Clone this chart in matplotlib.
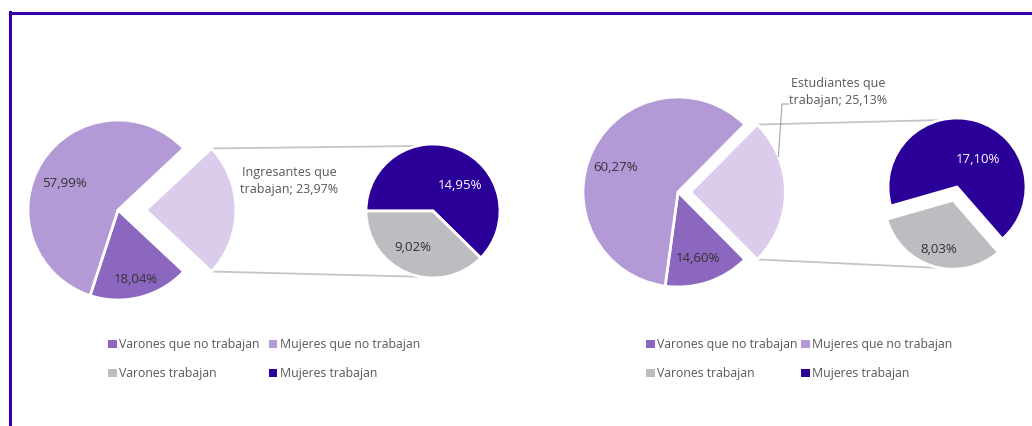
import numpy as np
import matplotlib
matplotlib.use('Agg')
import matplotlib.pyplot as plt
from matplotlib.patches import Patch
from matplotlib.lines import Line2D

plt.rcParams['font.family'] = ['Open Sans', 'DejaVu Sans']

W, H = 1032, 426

# data
legend_names = ['Varones que no trabajan', 'Mujeres que no trabajan',
                'Varones trabajan', 'Mujeres trabajan']
legend_colors = ['#8B67C0', '#B399D6', '#BDBDC1', '#2A0099']

left_title = 'Ingresantes que\ntrabajan'
left_main = [23.97, 18.04, 57.99]      # trabajan, varones no, mujeres no
left_sub = [14.95, 9.02]               # mujeres trabajan, varones trabajan

right_title = 'Estudiantes que\ntrabajan'
right_main = [25.13, 14.60, 60.27]
right_sub = [17.10, 8.03]

main_colors = ['#DCCCEB', '#8B67C0', '#B399D6']
sub_colors = ['#2A0099', '#BDBDC1']

fig = plt.figure(figsize=(W / 100, H / 100), dpi=100)
ax = fig.add_axes([0, 0, 1, 1])


def img(x, y):
    # image pixel coords -> axes data coords (y up)
    return x, H - y


def pct(v):
    return f'{v:.2f}%'.replace('.', ',')


def on_arc(w, ang):
    a = np.deg2rad(ang)
    return w.center[0] + w.r * np.cos(a), w.center[1] + w.r * np.sin(a)


def put_labels(wedges, vals, fracs, nudges, colors):
    for w, v, f, n, c in zip(wedges, vals, fracs, nudges, colors):
        mid = np.deg2rad((w.theta1 + w.theta2) / 2 + n)
        x = w.center[0] + f * w.r * np.cos(mid)
        y = w.center[1] + f * w.r * np.sin(mid)
        ax.text(x, y, pct(v), ha='center', va='center', fontsize=9.5, color=c)


def pie_of_pie(main, sub, main_xy, r_main, main_exp, sub_xy, r_sub,
               sub_start, sub_exp, main_lab, sub_lab):
    start = main[0] * 3.6 / 2
    # explode is given in data units, so scale by radius
    mw, _ = ax.pie(main, colors=main_colors, startangle=start, counterclock=False,
                   explode=[main_exp * r_main, 0, 0], center=img(*main_xy), radius=r_main,
                   wedgeprops=dict(edgecolor='white', linewidth=2))
    sw, _ = ax.pie(sub, colors=sub_colors, startangle=sub_start, counterclock=False,
                   explode=[0, sub_exp * r_sub], center=img(*sub_xy), radius=r_sub,
                   wedgeprops=dict(edgecolor='white', linewidth=2))
    # connector lines
    ex = mw[0]
    p1 = on_arc(ex, ex.theta2)
    q1 = on_arc(sw[0], 104)
    p2 = on_arc(ex, ex.theta1)
    q2 = on_arc(sw[1], 259)
    for p, q in ((p1, q1), (p2, q2)):
        ax.plot([p[0], q[0]], [p[1], q[1]], color='#C4C4C4', lw=1.3, zorder=0)
    put_labels(mw[1:], main[1:], main_lab[0], main_lab[1], ['#333333', '#333333'])
    put_labels(sw, sub, sub_lab[0], sub_lab[1], ['white', '#333333'])
    return mw, sw


# left pie of pie
pie_of_pie(left_main, left_sub, (118, 210), 90, 0.31,
           (433, 211), 67, 180, 0, ([0.8, 0.66], [0, 6]), ([0.55, 0.62], [-24, -6]))
tx, ty = img(289, 181)
ax.text(tx, ty, f'{left_title}; {pct(left_main[0])}', ha='center', va='center',
        fontsize=9, color='#595959', linespacing=1.4)

# right pie of pie
mw, sw = pie_of_pie(right_main, right_sub, (678, 192), 95, 0.13,
                    (957, 187), 69, 196, 0.2, ([0.73, 0.7], [-2, 5]), ([0.5, 0.74], [-20, 0]))
tx, ty = img(838, 92)
ax.text(tx, ty, f'{right_title}; {pct(right_main[0])}', ha='center', va='center',
        fontsize=9, color='#595959', linespacing=1.4)
lp = on_arc(mw[0], 22)
k1 = img(782, 104)
k2 = img(789, 104)
ax.plot([lp[0], k1[0], k2[0]], [lp[1], k1[1], k2[1]], color='#A6A6A6', lw=0.8)

ax.set_xlim(0, W)
ax.set_ylim(0, H)
ax.set_aspect('equal')
ax.axis('off')

# legends, row-major order: legend fills columns first
order = [0, 2, 1, 3]
handles = [Patch(facecolor=legend_colors[i], edgecolor='none') for i in order]
names = [legend_names[i] for i in order]
for anchor, cs in (((106 / W, 1 - 336 / H), 0.7), ((644 / W, 1 - 336 / H), 0.25)):
    fig.legend(handles, names, loc='upper left', bbox_to_anchor=anchor,
               ncol=2, frameon=False, fontsize=8.8, handlelength=0.7, handleheight=0.7,
               handletextpad=0.2, columnspacing=cs, labelspacing=1.3,
               labelcolor='#595959', borderpad=0.2, borderaxespad=0)

# frame
fc = '#3300A8'
fig.add_artist(Line2D([10 / W, 10 / W], [0, 1 - 12 / H], color=fc, lw=2.2))
fig.add_artist(Line2D([10 / W, 1], [1 - 12.5 / H, 1 - 12.5 / H], color=fc, lw=2.2))

fig.savefig('out.png', dpi=100)
